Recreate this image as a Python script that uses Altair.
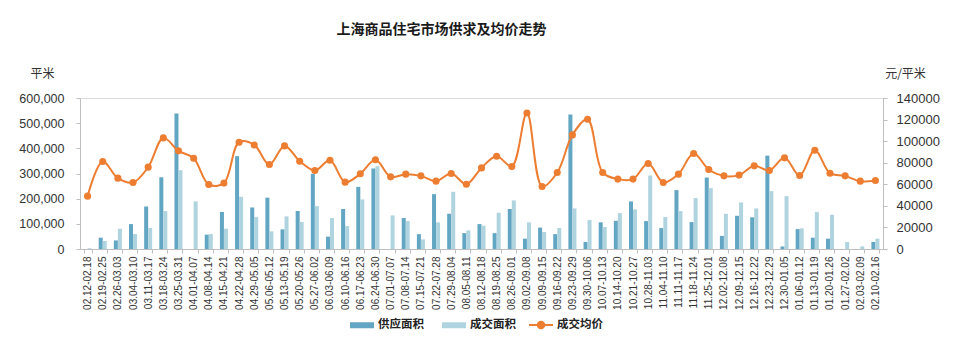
import altair as alt
import pandas as pd

weeks = ["02.12-02.18", "02.19-02.25", "02.26-03.03", "03.04-03.10", "03.11-03.17", "03.18-03.24",
         "03.25-03.31", "04.01-04.07", "04.08-04.14", "04.15-04.21", "04.22-04.28", "04.29-05.05",
         "05.06-05.12", "05.13-05.19", "05.20-05.26", "05.27-06.02", "06.03-06.09", "06.10-06.16",
         "06.17-06.23", "06.24-06.30", "07.01-07.07", "07.08-07.14", "07.15-07.21", "07.22-07.28",
         "07.29-08.04", "08.05-08.11", "08.12-08.18", "08.19-08.25", "08.26-09.01", "09.02-09.08",
         "09.09-09.15", "09.16-09.22", "09.23-09.29", "09.30-10.06", "10.07-10.13", "10.14-10.20",
         "10.21-10.27", "10.28-11.03", "11.04-11.10", "11.11-11.17", "11.18-11.24", "11.25-12.01",
         "12.02-12.08", "12.09-12.15", "12.16-12.22", "12.23-12.29", "12.30-01.05", "01.06-01.12",
         "01.13-01.19", "01.20-01.26", "01.27-02.02", "02.03-02.09", "02.10-02.16"]

supply = [0, 45000, 34000, 99000, 169000, 285000, 538000, 0, 57000, 147000, 369000, 165000,
          204000, 78000, 151000, 298000, 49000, 159000, 247000, 320000, 0, 123000, 59000, 218000,
          140000, 63000, 99000, 63000, 159000, 41000, 85000, 59000, 534000, 28000, 106000, 112000,
          189000, 111000, 83000, 234000, 107000, 284000, 52000, 132000, 126000, 371000, 10000,
          79000, 45000, 41000, 0, 0, 28000]

deal = [3000, 31700, 80600, 59500, 83300, 150700, 313000, 189000, 59500, 80600, 207500, 126900,
        70000, 129500, 107500, 170500, 122900, 91200, 197000, 329000, 133500, 111000, 38300, 105700,
        227300, 74000, 92500, 144000, 193000, 105700, 67400, 83300, 161200, 115000, 87200, 142700,
        157300, 292000, 126900, 150700, 202200, 241800, 140000, 185000, 161200, 230000, 210000,
        82000, 146700, 136100, 27700, 10600, 41000]

price = [49000, 81100, 65700, 61700, 75900, 103000, 91000, 84200, 59800, 61100, 99000, 96500,
         78300, 95600, 81400, 72800, 82300, 62000, 69700, 82700, 66900, 69400, 67800, 62900,
         70000, 60100, 75200, 86000, 76500, 126100, 58000, 70900, 105800, 120300, 70900, 64800,
         64800, 79200, 61700, 69400, 88500, 73700, 67800, 68500, 77100, 72800, 84500, 68100,
         91600, 70300, 67800, 62900, 63500]

bar_series = ["供应面积", "成交面积"]
line_series = ["成交均价"]
left_ticks = [0, 100000, 200000, 300000, 400000, 500000, 600000]
right_ticks = [0, 20000, 40000, 60000, 80000, 100000, 120000, 140000]

BAR_COLORS = ["#62a6c3", "#b0d4df"]
LINE_COLOR = "#ED7D31"
CJK = "Noto Sans CJK SC"
NUM = "Liberation Sans"

bar_df = pd.DataFrame({
    "week": weeks * 2,
    "series": [bar_series[0]] * len(weeks) + [bar_series[1]] * len(weeks),
    "value": supply + deal,
})
line_df = pd.DataFrame({"week": weeks, "price": price, "label": line_series * len(weeks)})

x_enc = alt.X(
    "week:N", sort=weeks,
    scale=alt.Scale(paddingInner=0.47, paddingOuter=0.235),
    axis=alt.Axis(title=None, labelAngle=-90, labelFontSize=10, labelFont=NUM, labelColor="#333333",
                  labelPadding=3, tickBand="extent", tickSize=4, tickColor="#bfbfbf",
                  domainColor="#bfbfbf", labelOverlap=False),
)

left_axis = alt.Axis(values=left_ticks, format=",.0f", title="平米", titleAngle=0, titleX=-38, titleY=-18,
                     titleAlign="center", titleBaseline="bottom", titleFont=CJK, titleFontSize=12,
                     titleFontWeight="normal", titleColor="#333333", labelFont=NUM, labelFontSize=12.5,
                     labelColor="#333333", tickSize=4, tickColor="#bfbfbf", domainColor="#bfbfbf",
                     grid=False, labelPadding=12)

right_axis = alt.Axis(orient="right", values=right_ticks, format="d", title="元/平米", titleAngle=0,
                      titleX=22, titleY=-18, titleAlign="center", titleBaseline="bottom", titleFont=CJK,
                      titleFontSize=12, titleFontWeight="normal", titleColor="#333333", labelFont=NUM,
                      labelFontSize=13, labelColor="#333333", tickSize=4, tickColor="#bfbfbf",
                      domainColor="#bfbfbf", grid=False, labelPadding=9)

y_right = alt.Y("price:Q", scale=alt.Scale(domain=[0, 140000]), axis=right_axis)

bars = alt.Chart(bar_df).mark_bar().encode(
    x=x_enc,
    xOffset=alt.XOffset("series:N", sort=bar_series, scale=alt.Scale(paddingInner=0, paddingOuter=0)),
    y=alt.Y("value:Q", scale=alt.Scale(domain=[0, 600000]), axis=left_axis),
    color=alt.Color("series:N", sort=bar_series,
                    scale=alt.Scale(domain=bar_series, range=BAR_COLORS),
                    legend=alt.Legend(title=None, orient="none", legendX=269, legendY=214,
                                      direction="horizontal",
                                      symbolType="M-1,-0.25H1V0.25H-1Z", symbolSize=576,
                                      labelFont=CJK, labelFontSize=11.5, labelFontWeight="bold",
                                      labelColor="#222222", labelOffset=3, columnPadding=17,
                                      padding=0)),
)

line = alt.Chart(line_df).mark_line(interpolate="catmull-rom", strokeWidth=2).encode(
    x=x_enc,
    y=y_right,
    stroke=alt.Stroke("label:N", scale=alt.Scale(domain=line_series, range=[LINE_COLOR]),
                      legend=alt.Legend(title=None, orient="none", legendX=448, legendY=214,
                                        symbolType="M-1,0H1M0.27,0A0.27,0.27,0,1,1,-0.27,0A0.27,0.27,0,1,1,0.27,0Z",
                                        symbolSize=576, symbolStrokeWidth=2,
                                        symbolFillColor=LINE_COLOR,
                                        labelFont=CJK, labelFontSize=11.5, labelFontWeight="bold",
                                        labelColor="#222222", labelOffset=3, padding=0)),
)

points = alt.Chart(line_df).mark_circle(size=50, color=LINE_COLOR, opacity=1).encode(
    x=x_enc,
    y=y_right,
)

chart = alt.layer(bars, alt.layer(line, points)).resolve_scale(
    y="independent"
).properties(
    width=803, height=151,
    padding={"left": 80, "top": 98, "right": 77, "bottom": 102},
    autosize=alt.AutoSizeParams(type="none"),
    title=alt.TitleParams("上海商品住宅市场供求及均价走势", font=CJK, fontSize=14, fontWeight="bold",
                          color="#1a1a1a", anchor="middle", dx=-40, offset=30),
).configure_view(stroke=None).configure(background="white")

chart.save("out.html", embed_options={"renderer": "svg", "actions": False})
